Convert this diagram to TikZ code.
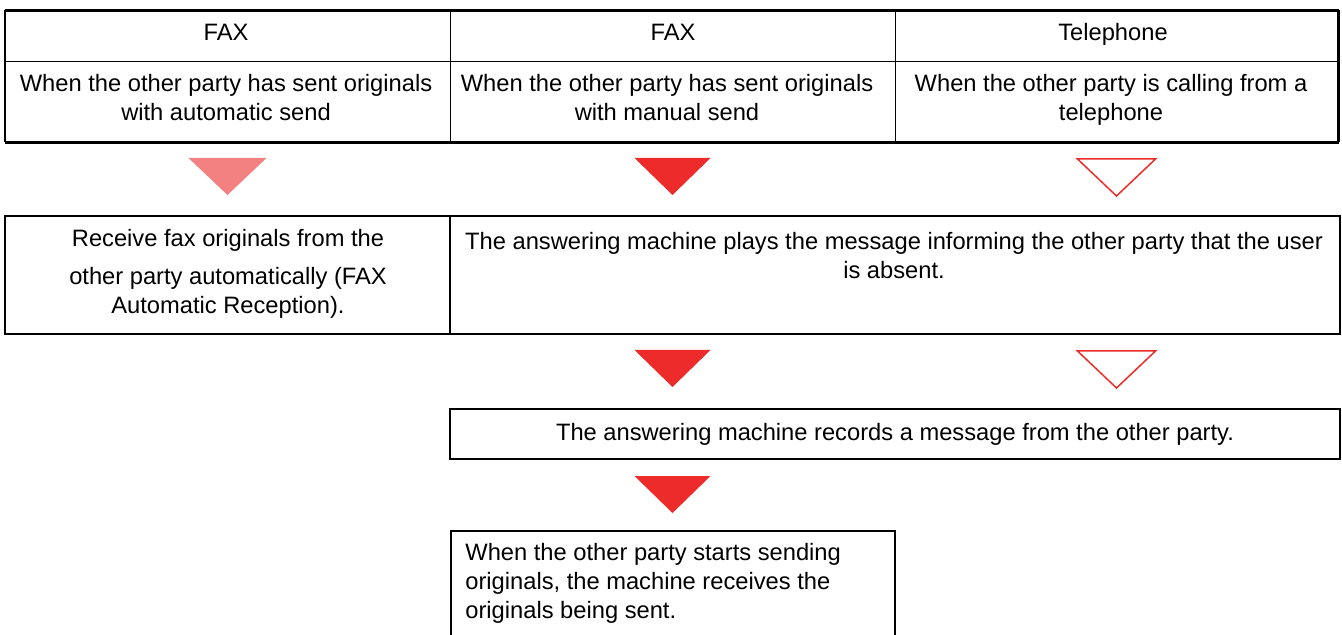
\documentclass[tikz,border=0pt]{standalone}
\usepackage{fontspec}
\setmainfont{Liberation Sans}
\definecolor{redfull}{RGB}{238,43,43}
\definecolor{redlight}{RGB}{243,129,129}
\begin{document}
\begin{tikzpicture}[x=0.5pt,y=-0.5pt,
  txt/.style={font=\fontsize{11.85}{14.5}\selectfont, inner sep=0pt, anchor=base, align=center},
  txtl/.style={font=\fontsize{11.85}{14.5}\selectfont, inner sep=0pt, anchor=base west, align=left},
  cell/.style={draw=black, line width=0.5pt, inner sep=0pt},
  box/.style={draw=black, line width=0.6pt, inner sep=0pt},
  trifull/.style={fill=redfull},
  trilight/.style={fill=redlight},
  trihollow/.style={draw=redfull, line width=0.75pt, line join=miter},
]
\useasboundingbox (0,0) rectangle (1342,635);
\clip (0,0) rectangle (1342,635);
% header table
\node[cell, minimum width=222.5pt, minimum height=25.5pt] (h1) at (227.5,36.5) {};
\node[cell, minimum width=222.5pt, minimum height=25.5pt] (h2) at (672.5,36.5) {};
\node[cell, minimum width=221.5pt, minimum height=25.5pt] (h3) at (1116.5,36.5) {};
\node[cell, minimum width=222.5pt, minimum height=40pt] (r1) at (227.5,102) {};
\node[cell, minimum width=222.5pt, minimum height=40pt] (r2) at (672.5,102) {};
\node[cell, minimum width=221.5pt, minimum height=40pt] (r3) at (1116.5,102) {};
\draw[line width=1.25pt] (h1.north west) -- (h3.north east);
\draw[line width=1.75pt] (r1.south west) -- (r3.south east);
\draw[line width=1pt] (h1.north west) -- (r1.south west);
\draw[line width=1.5pt] (h3.north east) -- (r3.south east);
\node[txt] (fax1) at (226,41) {FAX};
\node[txt] (fax2) at (673,41) {FAX};
\node[txt] (tel) at (1113,41) {Telephone};
\node[txt] (w1) at (226,121) {When the other party has sent originals\\with automatic send};
\node[txt] (w2) at (667,121) {When the other party has sent originals\\with manual send};
\node[txt] (w3) at (1111,121) {When the other party is calling from a\\telephone};
% triangles row 1
\coordinate (t1) at (227.5,158);
\coordinate (t2) at (672.5,158);
\coordinate (t3) at (1116.5,159);
\fill[trilight] (t1) ++(-39,0) -- ++(78,0) -- ++(-39,37) -- cycle;
\fill[trifull] (t2) ++(-38,0) -- ++(76,0) -- ++(-38,37) -- cycle;
\draw[trihollow] (t3) ++(-39,0) -- ++(78,0) -- ++(-39,37) -- cycle;
% second row boxes
\node[box, minimum width=222.5pt, minimum height=59pt] (b1) at (227.5,275) {};
\node[box, minimum width=445pt, minimum height=59pt] (b2) at (895,275) {};
\node[txt] (rcv) at (228,314) {Receive fax originals from the\\[4.5pt]other party automatically (FAX\\Automatic Reception).};
\node[txt] (ans) at (894,279) {The answering machine plays the message informing the other party that the user\\is absent.};
% triangles row 2
\coordinate (t4) at (672.5,350);
\coordinate (t5) at (1116.5,351);
\fill[trifull] (t4) ++(-38,0) -- ++(76,0) -- ++(-38,37) -- cycle;
\draw[trihollow] (t5) ++(-39,0) -- ++(78,0) -- ++(-39,37) -- cycle;
% record box
\node[box, minimum width=445pt, minimum height=25pt] (b3) at (895,434) {};
\node[txt] (rec) at (895,441) {The answering machine records a message from the other party.};
% triangle row 3
\coordinate (t6) at (672.5,476);
\fill[trifull] (t6) ++(-38,0) -- ++(76,0) -- ++(-38,37) -- cycle;
% last box
\node[box, minimum width=222pt, minimum height=60pt] (b4) at (673,591) {};
\node[txtl] (snd) at (465,618) {When the other party starts sending\\originals, the machine receives the\\originals being sent.};
\end{tikzpicture}
\end{document}
